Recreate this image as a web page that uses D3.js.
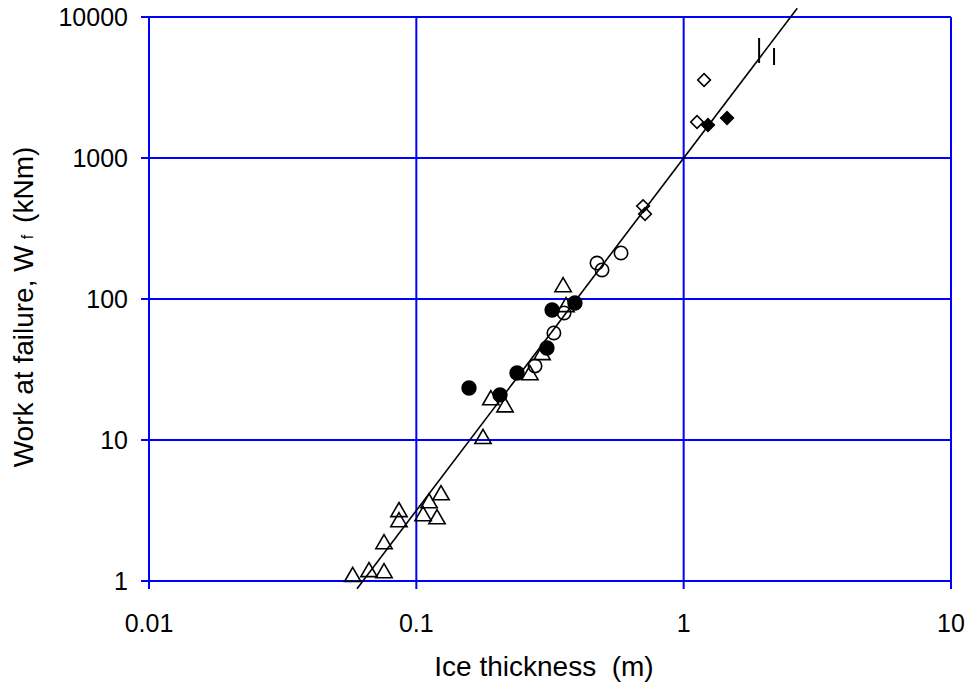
<!DOCTYPE html>
<html>
<head>
<meta charset="utf-8">
<script src="https://cdn.jsdelivr.net/npm/d3@7"></script>
<style>
  body { margin: 0; background: #fff; }
  svg text { font-family: "Liberation Sans", Arial, sans-serif; fill: #000; }
</style>
</head>
<body>
<div id="chart"></div>
<script>
// ice thickness (m) / work at failure (kNm)
var triangles = [
    [0.0578, 1.07], [0.0665, 1.16], [0.0757, 1.14], [0.0757, 1.83],
    [0.0861, 3.09], [0.0861, 2.62], [0.106, 2.89], [0.1116, 3.57],
    [0.1195, 2.75], [0.1237, 4.07], [0.1776, 10.2], [0.190, 19.2],
    [0.2147, 17.1], [0.266, 28.9], [0.2953, 40.1], [0.363, 87.8],
    [0.354, 121.7]
];
var dots = [
    [0.1574, 23.4], [0.2056, 20.9], [0.238, 29.9], [0.308, 44.9],
    [0.322, 83.6], [0.392, 93.7]
];
var circles = [
    [0.278, 33.5], [0.327, 57.4], [0.357, 79.6], [0.474, 180],
    [0.495, 160.6], [0.583, 212]
];
var diamonds = [
    [0.705, 456], [0.717, 401], [1.192, 3575], [1.122, 1800]
];
var filledDiamonds = [
    [1.233, 1714], [1.453, 1922]
];
// thickness, low, high
var ranges = [
    [1.915, 4720, 7096], [2.178, 4567, 6026]
];
// fit W = 1000 h^2.5
var fitX = [0.06, 2.66];
var xTicks = [0.01, 0.1, 1, 10];
var yTicks = [1, 10, 100, 1000, 10000];

var width = 970, height = 687;
var margin = {top: 17, right: 19, bottom: 106, left: 149};

var svg = d3.select('#chart')
    .append('svg')
    .attr('width', width)
    .attr('height', height);

var x = d3.scaleLog()
    .domain([0.01, 10])
    .range([margin.left, width - margin.right]);

var y = d3.scaleLog()
    .domain([1, 10000])
    .range([height - margin.bottom, margin.top]);

var blue = '#0000ff';

// grid
svg.selectAll('.vgrid')
    .data(xTicks)
    .enter()
    .append('line')
    .attr('x1', function (d) { return x(d); })
    .attr('x2', function (d) { return x(d); })
    .attr('y1', y(10000))
    .attr('y2', y(1) + 8)
    .attr('stroke', blue)
    .attr('stroke-width', 2);

svg.selectAll('.hgrid')
    .data(yTicks)
    .enter()
    .append('line')
    .attr('x1', x(0.01) - 8)
    .attr('x2', x(10))
    .attr('y1', function (d) { return y(d); })
    .attr('y2', function (d) { return y(d); })
    .attr('stroke', blue)
    .attr('stroke-width', 2);

// tick labels
svg.selectAll('.xlab')
    .data(xTicks)
    .enter()
    .append('text')
    .attr('x', function (d) { return x(d); })
    .attr('y', y(1) + 51)
    .attr('text-anchor', 'middle')
    .style('font-size', '25px')
    .text(function (d) { return d; });

svg.selectAll('.ylab')
    .data(yTicks)
    .enter()
    .append('text')
    .attr('x', x(0.01) - 21)
    .attr('y', function (d) { return y(d) + 9; })
    .attr('text-anchor', 'end')
    .style('font-size', '25px')
    .text(function (d) { return d; });

svg.append('text')
    .attr('x', 544)
    .attr('y', 676)
    .attr('text-anchor', 'middle')
    .style('font-size', '28px')
    .text('Ice thickness\u00a0\u00a0(m)');

var ylab = svg.append('text')
    .attr('transform', 'translate(33,' + 307 + ') rotate(-90)')
    .attr('text-anchor', 'middle')
    .style('font-size', '28px');
ylab.append('tspan').text('Work at failure, W');
ylab.append('tspan').attr('dx', 6).style('font-size', '16px').text('f');
ylab.append('tspan').attr('dx', 12).text('(kNm)');

// fit line
svg.append('line')
    .attr('x1', x(fitX[0]))
    .attr('y1', y(1000 * Math.pow(fitX[0], 2.5)))
    .attr('x2', x(fitX[1]))
    .attr('y2', y(1000 * Math.pow(fitX[1], 2.5)))
    .attr('stroke', '#000')
    .attr('stroke-width', 1.6);

function addPoints(data, type, size, filled, rot) {
    svg.append('g')
        .selectAll('path')
        .data(data)
        .enter()
        .append('path')
        .attr('transform', function (d) {
            return 'translate(' + x(d[0]) + ',' + y(d[1]) + ') rotate(' + (rot || 0) + ')';
        })
        .attr('d', d3.symbol().type(type).size(size))
        .attr('fill', filled ? '#000' : 'none')
        .attr('stroke', '#000')
        .attr('stroke-width', 1.6);
}

addPoints(triangles, d3.symbolTriangle, 115, false);
addPoints(circles, d3.symbolCircle, 140, false);
addPoints(dots, d3.symbolCircle, 150, true);
addPoints(diamonds, d3.symbolSquare, 80, false, 45);
addPoints(filledDiamonds, d3.symbolSquare, 80, true, 45);

svg.append('g')
    .selectAll('line')
    .data(ranges)
    .enter()
    .append('line')
    .attr('x1', function (d) { return x(d[0]); })
    .attr('x2', function (d) { return x(d[0]); })
    .attr('y1', function (d) { return y(d[1]); })
    .attr('y2', function (d) { return y(d[2]); })
    .attr('stroke', '#000')
    .attr('stroke-width', 2);
</script>
</body>
</html>
